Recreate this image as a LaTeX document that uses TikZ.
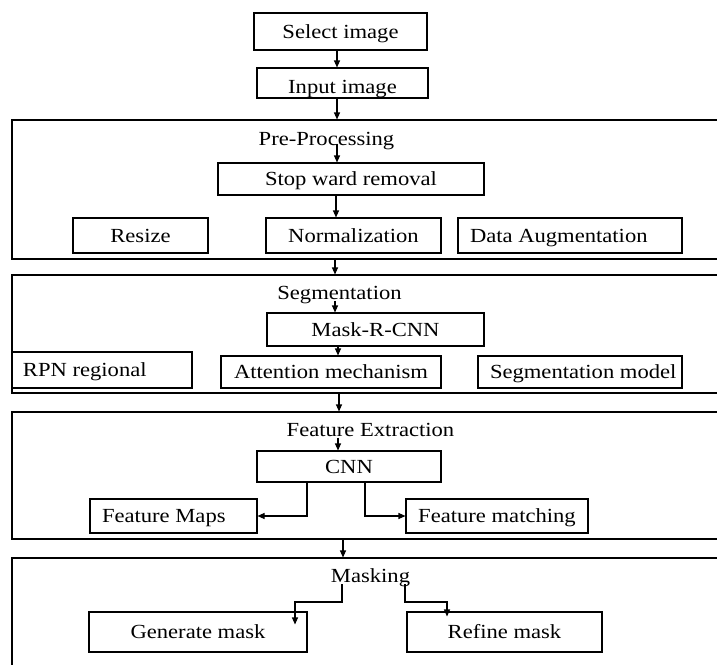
\documentclass[tikz,border=0pt]{standalone}
\usepackage{fontspec}
\setmainfont[FakeStretch=1.13]{Liberation Serif}
\usetikzlibrary{arrows.meta,calc}
\begin{document}
\begin{tikzpicture}[x=1pt,y={(0pt,-1pt)},
  font=\fontsize{20}{23}\selectfont,
  box/.style={draw,line width=1.1pt,inner sep=0pt,text height=14.5pt,text depth=1.5pt},
  lbox/.style={box,inner xsep=12pt},
  outer/.style={draw,line width=1.1pt,inner sep=0pt},
  lbl/.style={inner sep=0pt,text height=14.5pt,text depth=1.5pt},
  conn/.style={line width=1.1pt},
  arr/.style={conn,-{Triangle[length=7pt,width=6pt]}}]
\useasboundingbox (0,0) rectangle (717,664);
\clip (0,0) rectangle (717,664);
\fill[white] (0,0) rectangle (717,664);

% x positions of vertical connectors
\coordinate (x335) at (335,0);
\coordinate (x336) at (336,0);
\coordinate (x337) at (337,0);
\coordinate (x338) at (338,0);
\coordinate (x339) at (339,0);
\coordinate (x342) at (342,0);
\coordinate (x343) at (343,0);
\coordinate (x307) at (307,0);
\coordinate (x365) at (365,0);
\coordinate (x295) at (295,0);
\coordinate (x405) at (405,0);
\coordinate (x447) at (447,0);
\coordinate (y602) at (0,602);

% outer stage boxes
\node[outer,minimum width=718,minimum height=139] (pre) at (371,189.5) {};
\node[outer,minimum width=718,minimum height=118] (seg) at (371,334) {};
\node[outer,minimum width=718,minimum height=127] (fe)  at (371,475.5) {};
\node[outer,minimum width=718,minimum height=132] (msk) at (371,624) {};

% stage labels
\node[lbl] (prelbl) at (326.5,138.5) {Pre-Processing};
\node[lbl] (seglbl) at (339.5,292.7) {Segmentation};
\node[lbl] (felbl)  at (370.5,429.5) {Feature Extraction};
\node[lbl] (msklbl) at (370.5,576) {Masking};

% boxes
\node[box,minimum width=173,minimum height=37] (sel) at (340.5,31.5) {Select image};
\node[box,minimum width=171,minimum height=30,text height=23pt] (inp) at (342.5,83) {Input image};
\node[box,minimum width=266,minimum height=32] (stop) at (351,179) {Stop ward removal};
\node[box,minimum width=135,minimum height=35] (resize) at (140.5,235.5) {Resize};
\node[box,minimum width=175,minimum height=35] (norm) at (353.5,235.5) {Normalization};
\node[lbox,minimum height=35] (daug) at (570,235.5) {\makebox[200pt][l]{Data Augmentation}};
\node[box,minimum width=217,minimum height=33] (mrcnn) at (375.5,329.5) {Mask-R-CNN};
\node[lbox,inner xsep=11pt,minimum height=36] (rpn) at (102,370) {\makebox[158pt][l]{RPN regional}};
\node[box,minimum width=220,minimum height=32] (att) at (331,372) {Attention mechanism};
\node[lbox,minimum height=32] (segm) at (580,372) {\makebox[180pt][l]{Segmentation model}};
\node[box,minimum width=184,minimum height=31] (cnn) at (349,466.5) {CNN};
\node[lbox,minimum height=34] (fmaps) at (173.5,516) {\makebox[143pt][l]{Feature Maps}};
\node[box,minimum width=182,minimum height=34] (fmatch) at (497,516) {Feature matching};
\node[box,minimum width=218,minimum height=40] (gen) at (198,632) {Generate mask};
\node[box,minimum width=195,minimum height=40] (ref) at (504.5,632) {Refine mask};

% connectors
\draw[arr] (sel.south -| x337) -- (inp.north -| x337);
\draw[arr] (inp.south -| x337) -- (pre.north -| x337);
\draw[arr] ($(prelbl.south -| x337)+(0,-3)$) -- (stop.north -| x337);
\draw[arr] (stop.south -| x336) -- (norm.north -| x336);
\draw[arr] (pre.south -| x335) -- (seg.north -| x335);
\draw[arr] (seglbl.south -| x335) -- (mrcnn.north -| x335);
\draw[arr] (mrcnn.south -| x338) -- (att.north -| x338);
\draw[arr] (seg.south -| x339) -- (fe.north -| x339);
\draw[arr] (felbl.south -| x338) -- (cnn.north -| x338);
\draw[arr] (cnn.south -| x307) |- (fmaps.east);
\draw[arr] (cnn.south -| x365) |- (fmatch.west);
\draw[arr] (fe.south -| x343) -- (msk.north -| x343);
\draw[arr] (msklbl.south -| x342) -- (x342 |- y602) -| ($(gen.north -| x295)+(0,13)$);
\draw[arr] (msklbl.south -| x405) -- (x405 |- y602) -| ($(ref.north -| x447)+(0,5)$);
\end{tikzpicture}
\end{document}
